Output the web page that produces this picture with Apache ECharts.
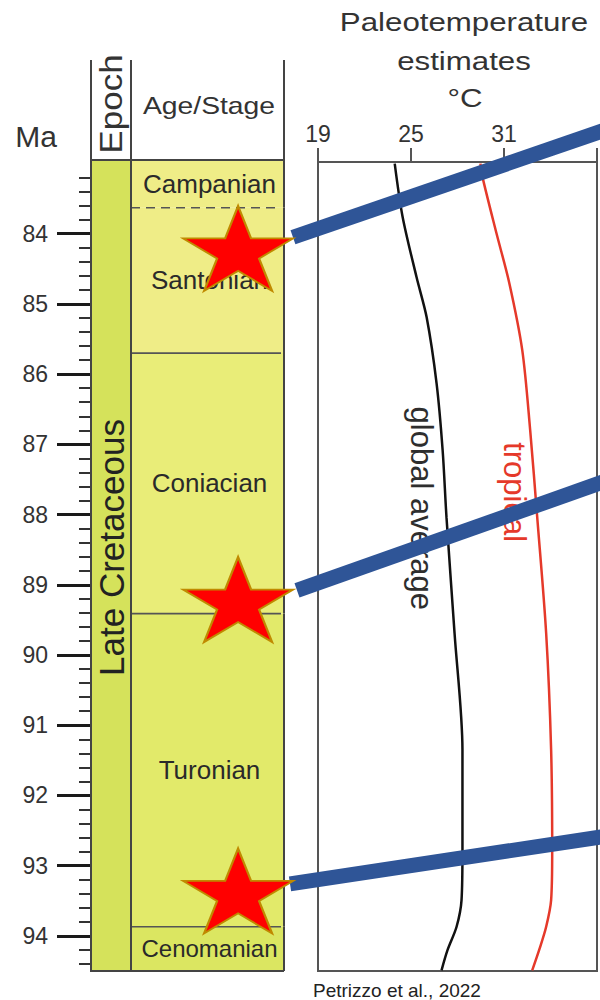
<!DOCTYPE html>
<html>
<head>
<meta charset="utf-8">
<script src="https://cdn.jsdelivr.net/npm/echarts@6/dist/echarts.min.js"></script>
<style>
html,body{margin:0;padding:0;background:#ffffff;}
#chart{width:600px;height:1000px;}
</style>
</head>
<body>
<div id="chart"></div>
<script>
// ================= DATA =================
// Age axis (Ma) labels
const majorTickMa = [84, 85, 86, 87, 88, 89, 90, 91, 92, 93, 94];
// Temperature axis ticks (deg C)
const tempTicks = [19, 25, 31, 37];

// Epoch column
const epochNames = ['Late Cretaceous'];
const epochStartMa = [82.95];
const epochEndMa = [94.5];

// Age / Stage column
const stageNames = ['Campanian', 'Santonian', 'Coniacian', 'Turonian', 'Cenomanian'];
const stageStartMa = [82.95, 83.63, 85.70, 89.41, 93.87];
const stageEndMa = [83.63, 85.70, 89.41, 93.87, 94.5];
const stageTopUncertain = [false, true, false, false, false];

// Sample horizons (stars)
const starAgesMa = [84.21, 89.21, 93.36];

// Paleotemperature curves
const globalAvgMa = [83.0, 83.76, 84.62, 85.19, 86.13, 87.08, 88.04, 89.69, 91.35, 92.78, 93.49, 93.87, 94.20, 94.49];
const globalAvgT  = [23.95, 24.46, 25.36, 26.01, 26.65, 27.04, 27.29, 27.81, 28.32, 28.32, 28.26, 27.94, 27.36, 26.97];
const tropicalMa  = [83.0, 83.19, 83.99, 84.70, 85.66, 86.80, 88.03, 89.69, 91.35, 92.78, 93.49, 93.87, 94.20, 94.49];
const tropicalT   = [29.48, 29.61, 30.51, 31.34, 32.18, 32.69, 33.14, 33.72, 34.04, 34.11, 34.04, 33.72, 33.27, 32.82];

// Curve labels
const curveLabelNames = ['global average', 'tropical'];
const curveLabelT = [25.7, 31.66];
const curveLabelMa = [87.91, 87.68];

// Connector bars from the stars (temperature / age units)
const connectorStartT  = [17.39, 17.65, 17.20];
const connectorStartMa = [84.05, 89.08, 93.26];
const connectorEndT    = [38.41, 38.41, 38.41];
const connectorEndMa   = [82.45, 87.45, 92.55];

// ================= STYLES / LAYOUT =================
const FONT = '"Liberation Sans", Arial, Helvetica, sans-serif';
const epochColor = '#d5e25b';
const stageColors = ['#efed87', '#efed87', '#e9ed78', '#e2ea6a', '#dbe661'];
const stageFontSizes = [26, 26, 26, 26, 24];
const curveColors = ['#111111', '#e5392a'];
const curveLabelColors = ['#2e2e2e', '#e5392a'];
const Y_MIN = 82.95, Y_MAX = 94.5;

// temperature panel geometry (px) -> used to build an overlay scale identical to the panel's
const T_LEFT = 318, T_WIDTH = 280, T_TOP = 162, T_HEIGHT = 809;
const T_MIN = 19, T_MAX = 37, T_YMIN = 82.978;
const pxPerDeg = T_WIDTH / (T_MAX - T_MIN);
const pxPerMa = T_HEIGHT / (Y_MAX - T_YMIN);
const OV_XMIN = T_MIN - T_LEFT / pxPerDeg;
const OV_XMAX = T_MIN + (600 - T_LEFT) / pxPerDeg;
const OV_YMIN = T_YMIN - T_TOP / pxPerMa;
const OV_YMAX = T_YMIN + (1000 - T_TOP) / pxPerMa;

const minorTickMa = [];
for (let i = 1; i <= 57; i++) {
  const v = Math.round((83 + i * 0.2) * 10) / 10;
  if (Math.abs(v - Math.round(v)) > 1e-6) minorTickMa.push(v);
}

const starPath = 'path://M50 0 L61.23 34.55 L97.55 34.55 L68.16 55.9 L79.39 90.45 L50 69.1 L20.61 90.45 L31.84 55.9 L2.45 34.55 L38.77 34.55 Z';

const chart = echarts.init(document.getElementById('chart'), null, {renderer: 'svg'});

function txt(x, y, text, size, extra) {
  return Object.assign({
    type: 'text', x: x, y: y, silent: true,
    style: {text: text, fontSize: size, fontFamily: FONT, fill: '#333',
            align: 'center', verticalAlign: 'middle'}
  }, extra || {});
}

const series = [];

// Epoch column
series.push({
  type: 'custom', xAxisIndex: 0, yAxisIndex: 0, z: 3, silent: true,
  data: epochNames.map((n, i) => [epochStartMa[i], epochEndMa[i]]),
  renderItem: function (params, api) {
    const p0 = api.coord([0, api.value(0)]);
    const p1 = api.coord([1, api.value(1)]);
    return {
      type: 'group', children: [
        {type: 'rect', shape: {x: p0[0], y: p0[1], width: p1[0] - p0[0], height: p1[1] - p0[1]},
         style: {fill: epochColor, stroke: '#444', lineWidth: 2}},
        {type: 'text', x: (p0[0] + p1[0]) / 2, y: (p0[1] + p1[1]) / 2 - 18, rotation: Math.PI / 2,
         style: {text: epochNames[params.dataIndex], fontSize: 35, fontFamily: FONT, fill: '#222',
                 align: 'center', verticalAlign: 'middle'}}
      ]
    };
  }
});

// Stage column
series.push({
  type: 'custom', xAxisIndex: 1, yAxisIndex: 2, z: 2, silent: true,
  data: stageNames.map((n, i) => [stageStartMa[i], stageEndMa[i]]),
  renderItem: function (params, api) {
    const i = params.dataIndex;
    const p0 = api.coord([0, api.value(0)]);
    const p1 = api.coord([1, api.value(1)]);
    const x0 = p0[0], x1 = p1[0], y0 = p0[1], y1 = p1[1];
    const ch = [
      {type: 'rect', shape: {x: x0, y: y0, width: x1 - x0, height: y1 - y0}, style: {fill: stageColors[i]}},
      {type: 'text', x: (x0 + x1) / 2 + 2, y: (y0 + y1) / 2,
       style: {text: stageNames[i], fontSize: stageFontSizes[i], fontFamily: FONT, fill: '#2a2a2a',
               align: 'center', verticalAlign: 'middle'}},
      {type: 'line', shape: {x1: x1, y1: y0, x2: x1, y2: y1}, style: {stroke: '#444', lineWidth: 2}},
      {type: 'line', shape: {x1: x0, y1: y0, x2: x0, y2: y1}, style: {stroke: '#444', lineWidth: 2}}
    ];
    if (i === 0) {
      ch.push({type: 'line', shape: {x1: x0, y1: y0, x2: x1, y2: y0}, style: {stroke: '#444', lineWidth: 2}});
    } else {
      ch.push({type: 'line', shape: {x1: x0, y1: y0, x2: x1 - 3, y2: y0},
               style: {stroke: '#555', lineWidth: 1.6, lineDash: stageTopUncertain[i] ? [9, 6] : null}});
    }
    if (i === stageNames.length - 1) {
      ch.push({type: 'line', shape: {x1: x0 - 40, y1: y1, x2: x1, y2: y1}, style: {stroke: '#444', lineWidth: 2}});
    }
    return {type: 'group', children: ch};
  }
});

// Temperature curves
[[globalAvgT, globalAvgMa], [tropicalT, tropicalMa]].forEach(function (c, k) {
  series.push({
    type: 'line', xAxisIndex: 2, yAxisIndex: 3, z: 4, silent: true,
    symbol: 'none', smooth: 0.3,
    lineStyle: {color: curveColors[k], width: 2.5},
    data: c[0].map((t, i) => [t, c[1][i]])
  });
});

// Curve labels
series.push({
  type: 'scatter', xAxisIndex: 2, yAxisIndex: 3, z: 5, silent: true, symbolSize: 0,
  itemStyle: {color: 'rgba(0,0,0,0)', opacity: 1},
  data: curveLabelNames.map((n, i) => ({
    value: [curveLabelT[i], curveLabelMa[i]],
    label: {show: true, position: 'inside', rotate: -90, formatter: n, fontSize: 31,
            fontFamily: FONT, color: curveLabelColors[i], textBorderWidth: 0, textShadowBlur: 0, opacity: 1}
  }))
});

// Connector bars (overlay scale, same °C / Ma mapping as the temperature panel)
connectorStartT.forEach(function (t, i) {
  series.push({
    type: 'line', xAxisIndex: 3, yAxisIndex: 4, z: 10, silent: true, clip: false,
    symbol: 'none',
    lineStyle: {color: '#2f5597', width: 15, cap: 'butt'},
    data: [[t, connectorStartMa[i]], [connectorEndT[i], connectorEndMa[i]]]
  });
});

// Stars
series.push({
  type: 'scatter', xAxisIndex: 1, yAxisIndex: 2, z: 12, silent: true,
  symbol: starPath, symbolSize: [110, 85],
  itemStyle: {color: '#ff0000', borderColor: '#c08a00', borderWidth: 2, opacity: 1},
  data: starAgesMa.map(a => [0.70, a])
});

const option = {
  animation: false,
  backgroundColor: '#ffffff',
  grid: [
    {left: 91, top: 160, width: 40, height: 811},
    {left: 131, top: 160, width: 153, height: 811},
    {left: T_LEFT, top: T_TOP, width: T_WIDTH, height: T_HEIGHT, show: true, borderColor: '#555', borderWidth: 2, backgroundColor: 'rgba(0,0,0,0)'},
    {left: 0, top: 0, width: 600, height: 1000}
  ],
  xAxis: [
    {gridIndex: 0, type: 'value', min: 0, max: 1, show: false},
    {gridIndex: 1, type: 'value', min: 0, max: 1, show: false},
    {gridIndex: 2, type: 'value', min: T_MIN, max: T_MAX, interval: 6, position: 'top',
     axisLine: {show: true, lineStyle: {color: '#555', width: 2}},
     axisTick: {show: true, length: 14, lineStyle: {color: '#555', width: 2}},
     axisLabel: {show: true, fontSize: 23, fontFamily: FONT, color: '#333', margin: 17,
                 formatter: function (v) { return v === 37 ? '' : String(v); }},
     splitLine: {show: false}},
    {gridIndex: 3, type: 'value', min: OV_XMIN, max: OV_XMAX, show: false}
  ],
  yAxis: [
    {gridIndex: 0, type: 'value', inverse: true, min: Y_MIN, max: Y_MAX, position: 'left',
     axisLine: {show: true, lineStyle: {color: '#444', width: 2}},
     axisTick: {show: true, customValues: majorTickMa, length: 34, lineStyle: {color: '#1a1a1a', width: 3}},
     axisLabel: {show: true, customValues: majorTickMa, margin: 43, fontSize: 23, fontFamily: FONT, color: '#333'},
     splitLine: {show: false}},
    {gridIndex: 0, type: 'value', inverse: true, min: Y_MIN, max: Y_MAX, position: 'left',
     axisLine: {show: false},
     axisTick: {show: true, customValues: minorTickMa, length: 12, lineStyle: {color: '#333', width: 2}},
     axisLabel: {show: false}, splitLine: {show: false}},
    {gridIndex: 1, type: 'value', inverse: true, min: Y_MIN, max: Y_MAX, show: false},
    {gridIndex: 2, type: 'value', inverse: true, min: T_YMIN, max: Y_MAX, show: false},
    {gridIndex: 3, type: 'value', inverse: true, min: OV_YMIN, max: OV_YMAX, show: false}
  ],
  graphic: [
    {type: 'line', silent: true, shape: {x1: 91, y1: 60, x2: 91, y2: 160}, style: {stroke: '#444', lineWidth: 2}},
    {type: 'line', silent: true, shape: {x1: 131, y1: 60, x2: 131, y2: 160}, style: {stroke: '#444', lineWidth: 2}},
    {type: 'line', silent: true, shape: {x1: 284, y1: 60, x2: 284, y2: 160}, style: {stroke: '#444', lineWidth: 2}},
    txt(36, 136, 'Ma', 30),
    txt(111, 104, 'Epoch', 31, {rotation: Math.PI / 2, scaleX: 1.13}),
    txt(209, 106, 'Age/Stage', 24, {scaleX: 1.18}),
    txt(464, 22.5, 'Paleotemperature', 25, {scaleX: 1.25}),
    txt(464, 61, 'estimates', 25, {scaleX: 1.25}),
    txt(465, 98, '\u00B0C', 25, {scaleX: 1.25}),
    {type: 'text', x: 313, y: 990, silent: true,
     style: {text: 'Petrizzo et al., 2022', fontSize: 19, fontFamily: FONT, fill: '#222', align: 'left', verticalAlign: 'middle'}}
  ],
  series: series
};

chart.setOption(option);
</script>
</body>
</html>
